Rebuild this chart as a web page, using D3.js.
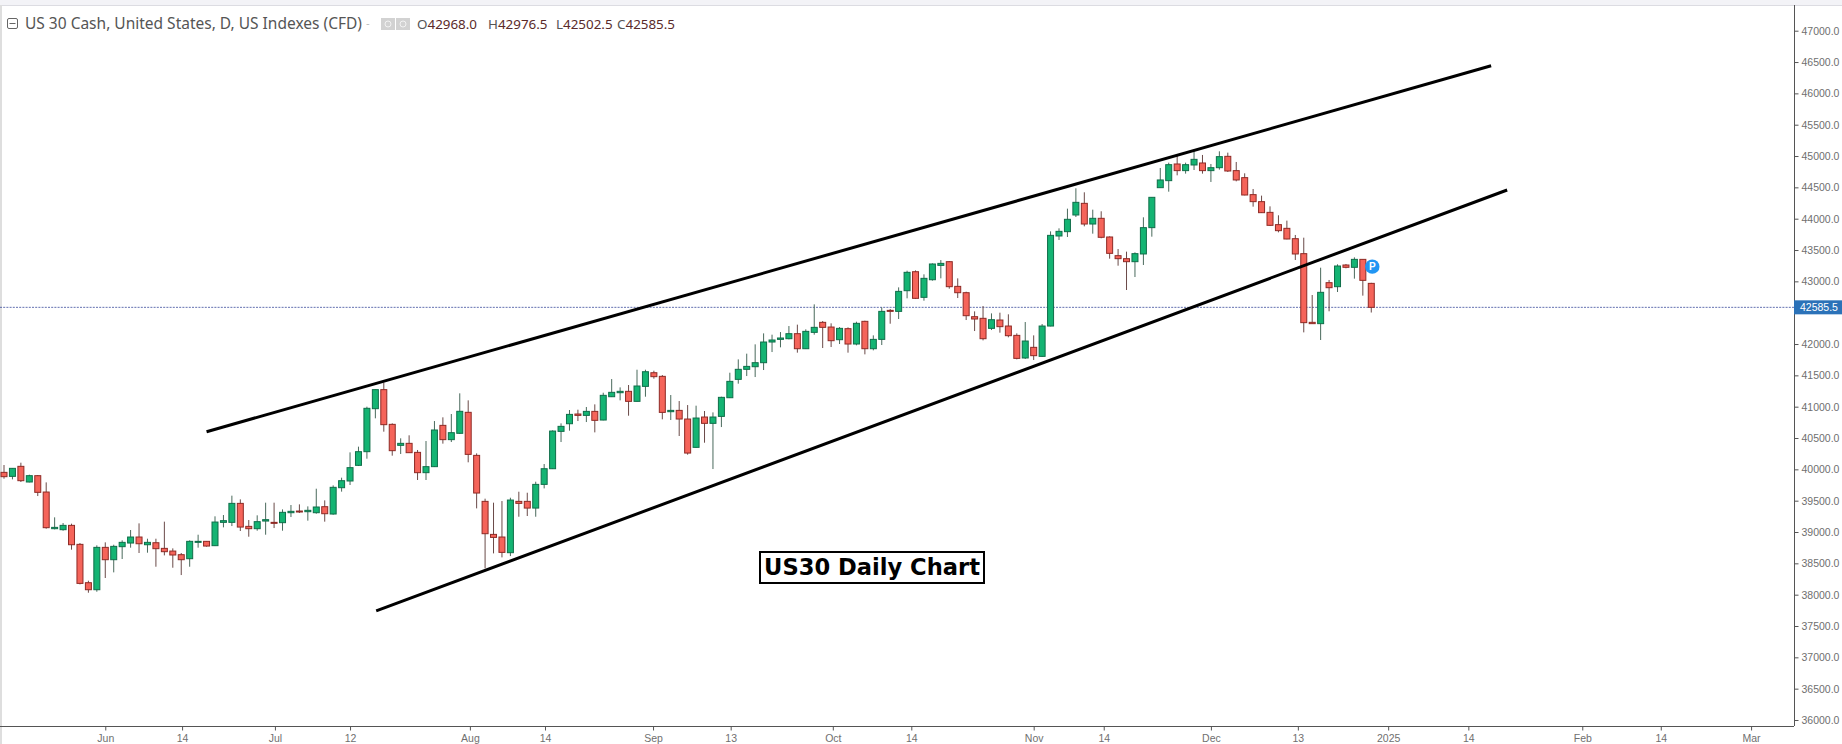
<!DOCTYPE html>
<html><head><meta charset="utf-8">
<style>
html,body{margin:0;padding:0;background:#fff;overflow:hidden}
svg{display:block}
text{font-family:"Liberation Sans",Arial,sans-serif}
</style>
<script src="https://cdnjs.cloudflare.com/ajax/libs/d3/7.8.5/d3.min.js"></script>
</head><body><svg id="c" width="1842" height="744"></svg>
<script>
const opens=[39952,39888,40048,39798,39899,39638,39053,39037,39106,38803,
38191,38079,38755,38558,38766,38824,38920,38797,38829,38739,
38696,38638,38574,38840,38851,38782,39154,39154,39457,39090,
39053,39175,39154,39149,39308,39335,39324,39308,39404,39287,
39707,39814,40064,40282,40968,41272,40718,40383,40415,40271,
39947,40043,40702,40474,40575,40910,40223,39489,38962,38920,
38670,39489,39489,39382,39760,40010,40606,40728,40883,40861,
40925,40787,41159,41223,41245,41085,41324,41542,41484,40920,
40941,40803,40351,40835,40734,40845,41143,41436,41596,41638,
41702,42032,42074,42085,42165,41925,42186,42346,42271,42069,
42245,42000,42362,41925,42074,42537,42521,42851,43154,42745,
43026,43255,43314,42920,42819,42436,42410,42250,42383,42287,
42138,41777,41947,41803,42287,43724,43793,44059,44245,43915,
44006,43708,43410,43362,43314,43437,43857,44495,44607,44873,
44767,44857,44889,44767,44814,44995,44767,44655,44384,44272,
44101,43905,43846,43681,43442,42346,42325,42979,42915,43261,43224,43351,42968];
const closes=[39883,40016,39819,39899,39633,39069,39074,39106,38797,38180,
38079,38755,38558,38771,38835,38920,38813,38835,38734,38686,
38633,38558,38851,38851,38776,39159,39181,39457,39079,39053,
39165,39197,39138,39314,39330,39319,39346,39399,39292,39713,
39819,40027,40282,40974,41272,40713,40298,40415,40266,39947,
40043,40628,40474,40585,40926,40239,39622,38973,38914,38675,
39510,39457,39382,39760,40010,40611,40686,40877,40861,40925,
40782,41181,41229,41245,41085,41330,41558,41479,40909,40941,
40803,40260,40819,40734,40835,41149,41404,41596,41643,41702,
42032,42064,42096,42165,41925,42202,42266,42266,42053,42250,
42000,42330,41925,42074,42521,42521,42840,43144,42729,43048,
43277,43287,42915,42819,42452,42399,42085,42388,42277,42133,
41771,42048,41814,42287,43734,43798,43990,44261,43915,44006,
43703,43447,43362,43314,43442,43857,44341,44618,44862,44767,
44862,44947,44767,44814,44990,44761,44618,44378,44272,44096,
43894,43809,43676,43437,42341,42325,42825,42899,43245,43224,43351,43016,42585.5];
const highs=[40069,40021,40106,39915,39909,39792,39234,39143,39133,38824,
38223,38787,38835,38797,38867,39032,39138,38893,38893,39165,
38739,38665,38867,38957,38856,39250,39271,39580,39521,39191,
39266,39468,39468,39361,39431,39441,39409,39691,39505,39744,
39867,40271,40362,41000,41277,41383,40734,40495,40543,40309,
40452,40771,40830,40883,41213,41101,40255,39532,39468,39494,
39547,39643,39627,39803,40085,40622,40734,40947,40952,40995,
41037,41223,41441,41308,41346,41590,41590,41574,41505,41186,
41090,41026,41016,40931,40909,41159,41542,41755,41846,41995,
42170,42149,42191,42287,42309,42234,42633,42367,42330,42271,
42266,42356,42372,42138,42585,42559,42904,43170,43175,43112,
43287,43340,43324,43048,42835,42521,42606,42489,42500,42474,
42170,42351,42138,42319,43798,43846,44160,44485,44421,44144,
44118,43718,43516,43474,43463,44022,44341,44809,44894,45001,
44894,45075,45017,44873,45075,45054,44905,44724,44474,44368,
44197,44054,43969,43740,43697,42782,43218,43022,43272,43277,43383,43351,42976.5];
const lows=[39851,39840,39798,39792,39574,39053,39042,39021,38718,38164,
38031,38047,38266,38356,38569,38750,38665,38670,38446,38627,
38430,38313,38446,38750,38766,38776,39074,39095,39016,38925,
39021,38957,39063,39021,39239,39303,39181,39292,39165,39276,
39644,39750,40053,40170,40814,40601,40218,40245,40261,39830,
39830,40037,40410,40436,40564,40112,39377,38420,38659,38595,
38616,39244,39255,39244,39696,40005,40436,40617,40771,40755,
40590,40782,41154,41101,40856,41080,41159,41447,40798,40787,
40532,40234,40345,40425,40005,40675,41138,41367,41489,41473,
41585,41872,41947,42074,41862,41920,42149,41936,41952,42000,
41862,41979,41835,41899,41984,42324,42399,42729,42718,42691,
43011,43048,42883,42734,42383,42207,42058,42223,42181,42107,
41755,41761,41745,41793,42282,43660,43708,44027,43878,43761,
43687,43362,43250,42862,43069,43261,43713,44495,44431,44692,
44719,44777,44719,44586,44783,44745,44596,44373,44192,44091,
43883,43782,43671,43341,42186,42325,42064,42522,42830,43208,43043,42772,42502.5];
const priceTicks=[36000,36500,37000,37500,38000,38500,39000,39500,40000,40500,41000,41500,42000,43000,43500,44000,44500,45000,45500,46000,46500,47000];
const timeLabels=["Jun","14","Jul","12","Aug","14","Sep","13","Oct","14","Nov","14","Dec","13","2025","14","Feb","14","Mar"];
const timeBars=[12,21.1,32.1,41,55.2,64.1,76.9,86.1,98.2,107.5,122,130.3,143,153.3,164,173.5,187,196.3,207];
const trendUpperBars=[24,176.2], trendUpperPrices=[40600,46440];
const trendLowerBars=[44.1,178.1], trendLowerPrices=[37740,44458];
const lastPrice=42585.5;
const title="US 30 Cash, United States, D, US Indexes (CFD)";
const ohlcKeys=["O","H","L","C"], ohlcVals=["42968.0","42976.5","42502.5","42585.5"];
const annotation="US30 Daily Chart";

const svg=d3.select("#c");
const AX=1794, AY=726;
const x=d3.scaleLinear().domain([0,208]).range([4,4+8.44*208]);
const y=d3.scaleLinear().domain([36000,47000]).range([720,30.7]);

// frame
svg.append("rect").attr("x",0).attr("y",0).attr("width",1842).attr("height",5).attr("fill","#f3f3f7");
svg.append("line").attr("x1",0).attr("x2",1842).attr("y1",5.5).attr("y2",5.5).attr("stroke","#dcdce2");
svg.append("line").attr("x1",1).attr("x2",1).attr("y1",5).attr("y2",744).attr("stroke","#dedede").attr("stroke-width",2);

// last price line
svg.append("line").attr("x1",0).attr("x2",AX).attr("y1",y(lastPrice)).attr("y2",y(lastPrice))
  .attr("stroke","#3a4a9a").attr("stroke-width",0.8).attr("stroke-dasharray","2 1.2");

// candles
const idx=d3.range(opens.length);
const GF="#14b473",GS="#0f6e49",RF="#f5645a",RS="#8e2a25";
const g=svg.append("g");
g.selectAll("line").data(idx).join("line")
  .attr("x1",i=>x(i)).attr("x2",i=>x(i)).attr("y1",i=>y(highs[i])).attr("y2",i=>y(lows[i]))
  .attr("stroke",i=>closes[i]>=opens[i]?"#4a6a5c":"#6a4a48").attr("stroke-width",1);
g.selectAll("rect").data(idx).join("rect")
  .attr("x",i=>x(i)-3).attr("width",6)
  .attr("y",i=>y(Math.max(opens[i],closes[i])))
  .attr("height",i=>Math.max(1,Math.abs(y(opens[i])-y(closes[i]))))
  .attr("fill",i=>closes[i]>=opens[i]?GF:RF)
  .attr("stroke",i=>closes[i]>=opens[i]?GS:RS).attr("stroke-width",1);

// trend lines
[[trendUpperBars,trendUpperPrices],[trendLowerBars,trendLowerPrices]].forEach(([b,p])=>{
  svg.append("line").attr("x1",x(b[0])).attr("x2",x(b[1])).attr("y1",y(p[0])).attr("y2",y(p[1]))
    .attr("stroke","#000").attr("stroke-width",3);
});

// P marker
const px=x(opens.length-1), py=y(43235);
svg.append("circle").attr("cx",px+1).attr("cy",py).attr("r",7.2).attr("fill","#2196f3");
svg.append("text").attr("x",px+1).attr("y",py+3.6).attr("text-anchor","middle")
  .attr("fill","#fff").style("font-weight","700").style("font-size","10px").text("P");

// axes
const yAxis=d3.axisRight(y).tickValues(priceTicks).tickFormat(d3.format(".1f")).tickSize(4).tickPadding(3);
const ga=svg.append("g").attr("transform",`translate(${AX+.5},0)`).call(yAxis);
ga.select(".domain").attr("d",`M0,5V${AY}`).attr("stroke","#555");
ga.selectAll(".tick line").attr("stroke","#555");
ga.selectAll("text").attr("fill","#6f6f6f").style("font-size","10.5px").style("font-family",'"Liberation Sans",Arial,sans-serif');

const xAxis=d3.axisBottom(x).tickValues(timeBars).tickFormat((d,i)=>timeLabels[i]).tickSize(4).tickPadding(4);
const gb=svg.append("g").attr("transform",`translate(0,${AY+.5})`).call(xAxis);
gb.select(".domain").attr("d",`M0,0H${AX}`).attr("stroke","#555");
gb.selectAll(".tick line").attr("stroke","#555");
gb.selectAll("text").attr("fill","#6f6f6f").style("font-size","10.5px").style("font-family",'"Liberation Sans",Arial,sans-serif');

// price tag
svg.append("rect").attr("x",AX).attr("y",y(lastPrice)-7).attr("width",48).attr("height",14).attr("fill","#2b72b8");
svg.append("text").attr("x",AX+6).attr("y",y(lastPrice)+3.8).attr("fill","#fff").style("font-size","10.5px").text(d3.format(".1f")(lastPrice));

// header
svg.append("rect").attr("x",7.5).attr("y",18.5).attr("width",10).attr("height",10).attr("rx",1.5).attr("fill","none").attr("stroke","#666");
svg.append("line").attr("x1",9.5).attr("x2",15.5).attr("y1",23.5).attr("y2",23.5).attr("stroke","#666");
svg.append("text").attr("x",25).attr("y",29).attr("fill","#555").style("font-family",'"Noto Sans",sans-serif').style("font-size","15.5px").text(title);
svg.append("text").attr("x",366).attr("y",27).attr("fill","#bbb").style("font-size","11px").text("-");
[381,396].forEach(a=>svg.append("rect").attr("x",a).attr("y",18).attr("width",14).attr("height",12).attr("fill","#d2d2d2"));
[388,403].forEach(a=>svg.append("circle").attr("cx",a).attr("cy",24).attr("r",3).attr("fill","none").attr("stroke","#f2f2f2"));
const ohlcX=[417,488,556,617];
ohlcKeys.forEach((k,i)=>{
  const t=svg.append("text").attr("x",ohlcX[i]).attr("y",29).style("font-family",'"Noto Sans",sans-serif').style("font-size","13.4px");
  t.append("tspan").attr("fill","#555").text(k);
  t.append("tspan").attr("fill","#5a2a2a").text(ohlcVals[i]);
});

// annotation
svg.append("rect").attr("x",760).attr("y",552).attr("width",224).attr("height",31).attr("fill","#fff").attr("stroke","#000").attr("stroke-width",2);
svg.append("text").attr("x",872).attr("y",575).attr("text-anchor","middle").attr("fill","#000")
  .style("font-family",'"DejaVu Sans",sans-serif').style("font-weight","700").style("font-size","22.6px").text(annotation);
</script></body></html>
